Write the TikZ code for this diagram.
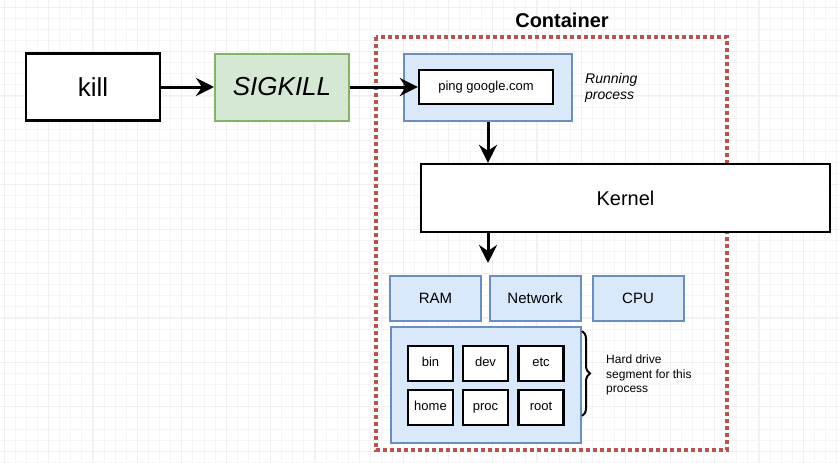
\documentclass[tikz,border=0pt]{standalone}
\usepackage{fontspec}
\setmainfont{Liberation Sans}
\usetikzlibrary{arrows.meta,decorations.pathreplacing}
\definecolor{sigfill}{HTML}{D5E8D4}
\definecolor{sigline}{HTML}{82B366}
\definecolor{bluefill}{HTML}{DAE8FC}
\definecolor{blueline}{HTML}{6C8EBF}
\definecolor{fencecol}{HTML}{B85450}
\tikzset{
  box/.style={draw, line width=2.3pt, fill=white, inner sep=0pt},
  greenbox/.style={box, line width=2pt, draw=sigline, fill=sigfill},
  bluebox/.style={box, line width=2pt, draw=blueline, fill=bluefill},
  dirbox/.style={box, minimum width=45pt, minimum height=35pt, text height=9.5pt, text depth=2.7pt,
    font=\fontsize{13}{15}\selectfont},
  resbox/.style={bluebox, minimum width=91pt, minimum height=45pt, font=\fontsize{15}{18}\selectfont},
  flow/.style={line width=3pt, -{Stealth[length=18pt,width=18pt,inset=6pt]}},
  fence/.style={draw=fencecol, line width=4pt, dash pattern=on 3.8pt off 3.2pt},
  gridminor/.style={black!4, line width=0.6pt},
  gridmajor/.style={black!6, line width=0.8pt},
}

\begin{document}
\begin{tikzpicture}[x=1pt, y=-1pt]
\useasboundingbox (0,0) rectangle (839,463);
\fill[white] (0,0) rectangle (839,463);
% background grid
\foreach \i in {0,...,75}
  \draw[gridminor] ({4+11.1*\i},0) -- ({4+11.1*\i},463);
\foreach \j in {0,...,41}
  \draw[gridminor] (0,{7+11.1*\j}) -- (839,{7+11.1*\j});
\foreach \i in {0,...,18}
  \draw[gridmajor] ({4+44.4*\i},0) -- ({4+44.4*\i},463);
\foreach \j in {0,...,10}
  \draw[gridmajor] (0,{7+44.4*\j}) -- (839,{7+44.4*\j});

\node[box, minimum width=134pt, minimum height=67pt, font=\fontsize{26}{30}\selectfont] (kill) at (93,87) {kill};
\node[greenbox, minimum width=134pt, minimum height=67pt, font=\fontsize{26}{30}\selectfont\itshape] (sigkill) at (282,87) {SIGKILL};

% the container
\draw[fence] (376,37) rectangle (727,450);
\node[font=\fontsize{20}{24}\selectfont\bfseries] (title) at (562,20) {Container};

\node[bluebox, minimum width=168pt, minimum height=67pt] (run) at (488,87) {};
\node[box, minimum width=134pt, minimum height=34pt, font=\fontsize{13}{15}\selectfont] (ping) at (486,87) {ping google.com};
\node[anchor=west, align=left, inner sep=0pt, font=\fontsize{14}{16}\selectfont\itshape] (runlabel) at (585,88) {Running\\process};

\node[box, minimum width=409pt, minimum height=68pt, font=\fontsize{20}{24}\selectfont] (kernel) at (625.5,198) {Kernel};
\coordinate (res) at (488,263);

\node[resbox] (ram) at (435.5,298.5) {RAM};
\node[resbox] (net) at (535,298.5) {Network};
\node[resbox] (cpu) at (638,298.5) {CPU};

\node[bluebox, minimum width=190pt, minimum height=116pt] (disk) at (486,385) {};
\foreach \dname/\x/\y in {bin/430.5/363.5, dev/485.5/363.5, etc/541/363.5,
                          home/430.5/407.5, proc/485.5/407.5, root/541/407.5}
  \node[dirbox] (\dname) at (\x,\y) {\dname};

\draw[line width=2pt, decorate, decoration={brace, amplitude=8pt}]
  ([yshift=-5pt]disk.north east) -- ([yshift=28pt]disk.south east);
\node[anchor=west, align=left, inner sep=0pt, font=\fontsize{12}{14.6}\selectfont] (disklabel) at (606,375) {Hard drive\\segment for this\\process};

% arrows
\draw[flow] (kill) -- (sigkill);
\draw[flow] (sigkill) -- (ping);
\draw[flow] (run.south) -- (run.south |- kernel.north);
\draw[flow] (kernel.south -| res) -- (res);
\end{tikzpicture}
\end{document}
